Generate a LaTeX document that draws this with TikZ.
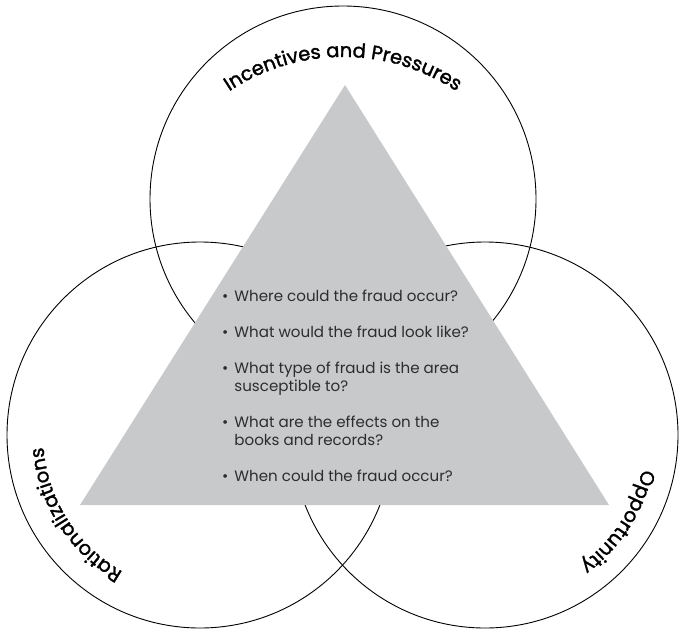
\documentclass[tikz,border=0pt]{standalone}
\usepackage{fontspec}
\setmainfont{Poppins}
\newfontfamily\labelface{Poppins}[FakeBold=1.6]
\usetikzlibrary{decorations.text}

\definecolor{wedgegray}{RGB}{200,201,203}
\definecolor{qgray}{RGB}{45,45,45}
\newcommand{\arcfont}{\labelface\fontsize{19.5}{19.5}\selectfont}

\begin{document}
\begin{tikzpicture}[x=1pt, y=1pt,
	ring/.style     = {draw, circle, line width=0.9pt, minimum size=386pt, inner sep=0pt},
	wedge/.style    = {fill=wedgegray},
	qlist/.style    = {inner sep=0pt, anchor=base west, text=qgray, font=\fontsize{15.1}{18}\selectfont},
	arclabel/.style = {decorate, decoration={text along path, text align=center, text={|\arcfont|#1}}}]
	
	\useasboundingbox (0,0) rectangle (679,633);
	
	% the three circles
	\node[ring] (cTop)   at (343,434) {};
	\node[ring] (cLeft)  at (200,198) {};
	\node[ring] (cRight) at (485,198) {};
	
	% grey triangle
	\coordinate (apex)  at (345,548);
	\coordinate (baseL) at (80,128);
	\coordinate (baseR) at (609,128);
	\fill[wedge] (apex) -- (baseL) -- (baseR) -- cycle;
	
	% labels round the circles
	\coordinate (topArc) at (343,371);
	\path[arclabel={Incentives and Pressures}] ([shift={(150:205pt)}]topArc) arc[start angle=150, end angle=30, radius=205pt];
	\path[arclabel={Rationalizations}] ([shift={(262:157pt)}]cLeft.center) arc[start angle=262, end angle=163, radius=157pt];
	\path[arclabel={Opportunity}] ([shift={(12:161pt)}]cRight.center) arc[start angle=12, end angle=-78, radius=161pt];
	
	% questions
	\node[qlist] (questions) at (222,332) {\begin{tabular}[t]{@{}l@{\hspace{6pt}}p{260pt}@{}}
		\textbullet & Where could the fraud occur?\\[18pt]
		\textbullet & What would the fraud look like?\\[18pt]
		\textbullet & What type of fraud is the area\newline susceptible to?\\[18pt]
		\textbullet & What are the effects on the\newline books and records?\\[18pt]
		\textbullet & When could the fraud occur?
	\end{tabular}};
	
\end{tikzpicture}
\end{document}
